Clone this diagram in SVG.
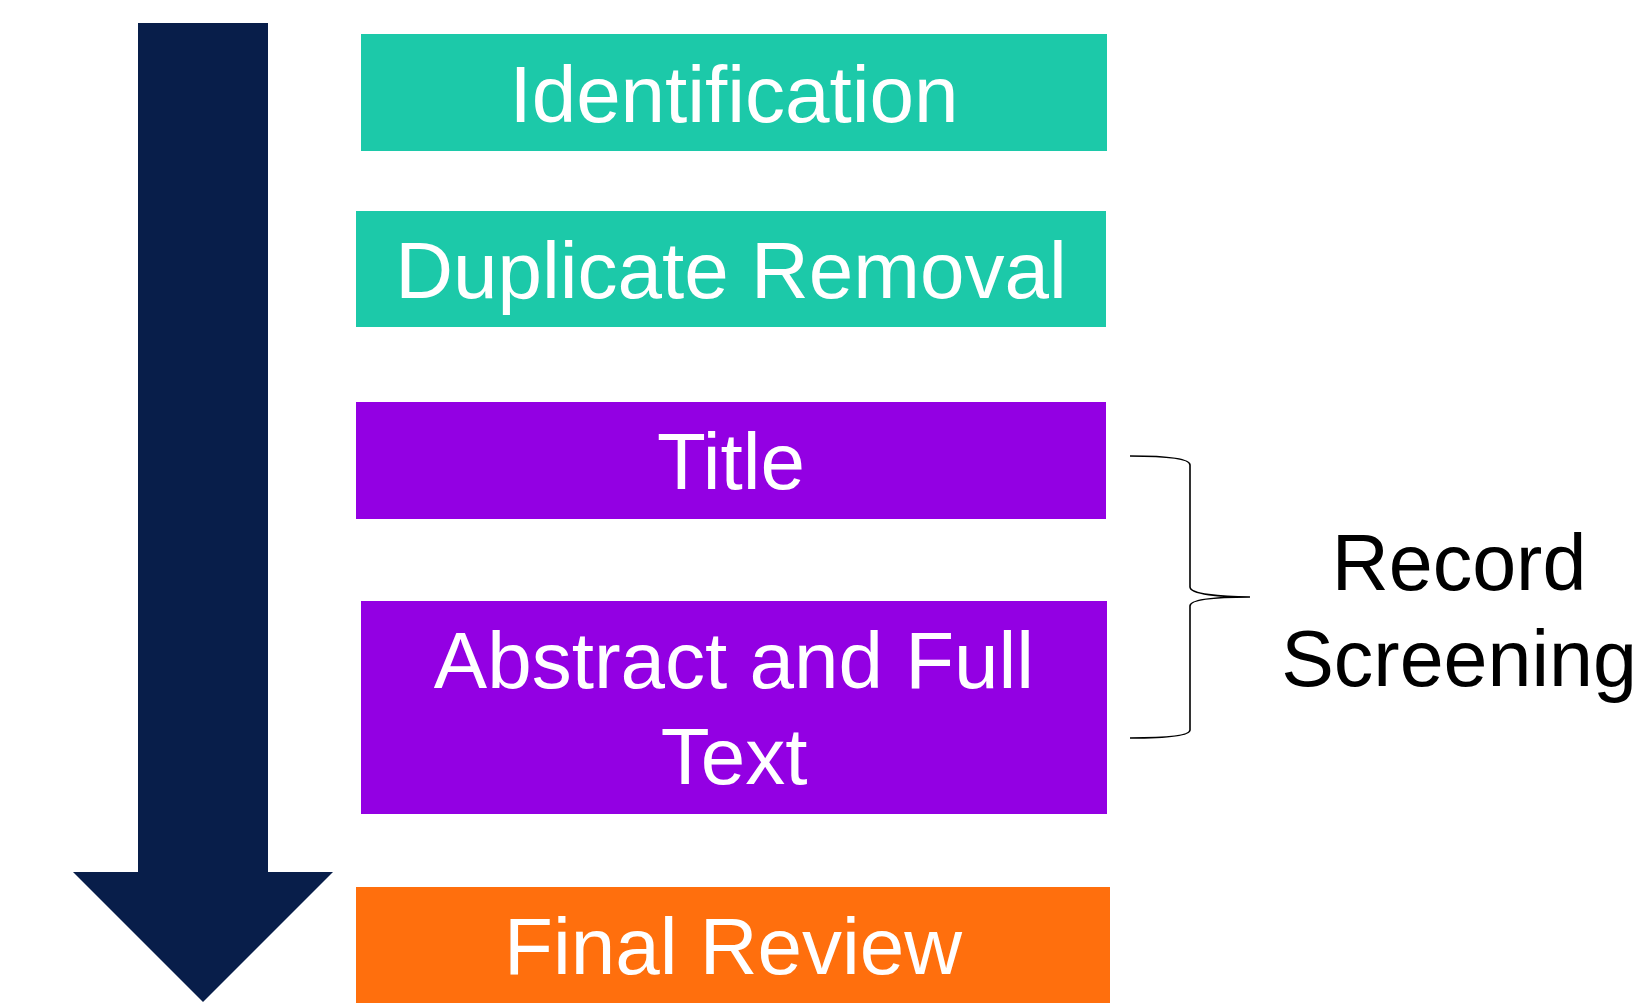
<svg xmlns="http://www.w3.org/2000/svg" width="1645" height="1007" viewBox="0 0 1645 1007">
  <style>
    .lbl { font-family: "Liberation Sans", Arial, sans-serif; font-size: 80px; fill: #ffffff; text-anchor: middle; }
    .side { font-family: "Liberation Sans", Arial, sans-serif; font-size: 79px; fill: #000000; text-anchor: middle; }
    .teal { fill: #1cc9a9; }
    .purple { fill: #9300e3; }
    .orange { fill: #ff6f0d; }
    .brace { fill: none; stroke: #000000; stroke-width: 1.6; }
  </style>
  <rect width="1645" height="1007" fill="#ffffff"/>
  <g id="flow-arrow">
    <polygon points="138,23 268,23 268,872 333,872 203,1002 73,872 138,872" fill="#081e4a"/>
  </g>
  <g id="node-identification">
    <rect class="teal" x="361" y="34" width="746" height="117"/>
    <text class="lbl" x="734" y="122">Identification</text>
  </g>
  <g id="node-duplicate-removal">
    <rect class="teal" x="356" y="211" width="750" height="116"/>
    <text class="lbl" x="731" y="298">Duplicate Removal</text>
  </g>
  <g id="node-title">
    <rect class="purple" x="356" y="402" width="750" height="117"/>
    <text class="lbl" x="731" y="489">Title</text>
  </g>
  <g id="node-abstract-full-text">
    <rect class="purple" x="361" y="601" width="746" height="213"/>
    <text class="lbl" x="734" y="688">Abstract and Full</text>
    <text class="lbl" x="734" y="784">Text</text>
  </g>
  <g id="node-final-review">
    <rect class="orange" x="356" y="887" width="754" height="116"/>
    <text class="lbl" x="733" y="974">Final Review</text>
  </g>
  <g id="connectors">
    <path class="brace" d="M1130,456 C1165,456 1190,458 1190,465 L1190,587 C1190,594 1220,597 1250,597 C1220,597 1190,599 1190,606 L1190,730 C1190,736 1165,738 1130,738"/>
  </g>
  <g id="node-record-screening">
    <text class="side" x="1459" y="590">Record</text>
    <text class="side" x="1459" y="686">Screening</text>
  </g>
</svg>
